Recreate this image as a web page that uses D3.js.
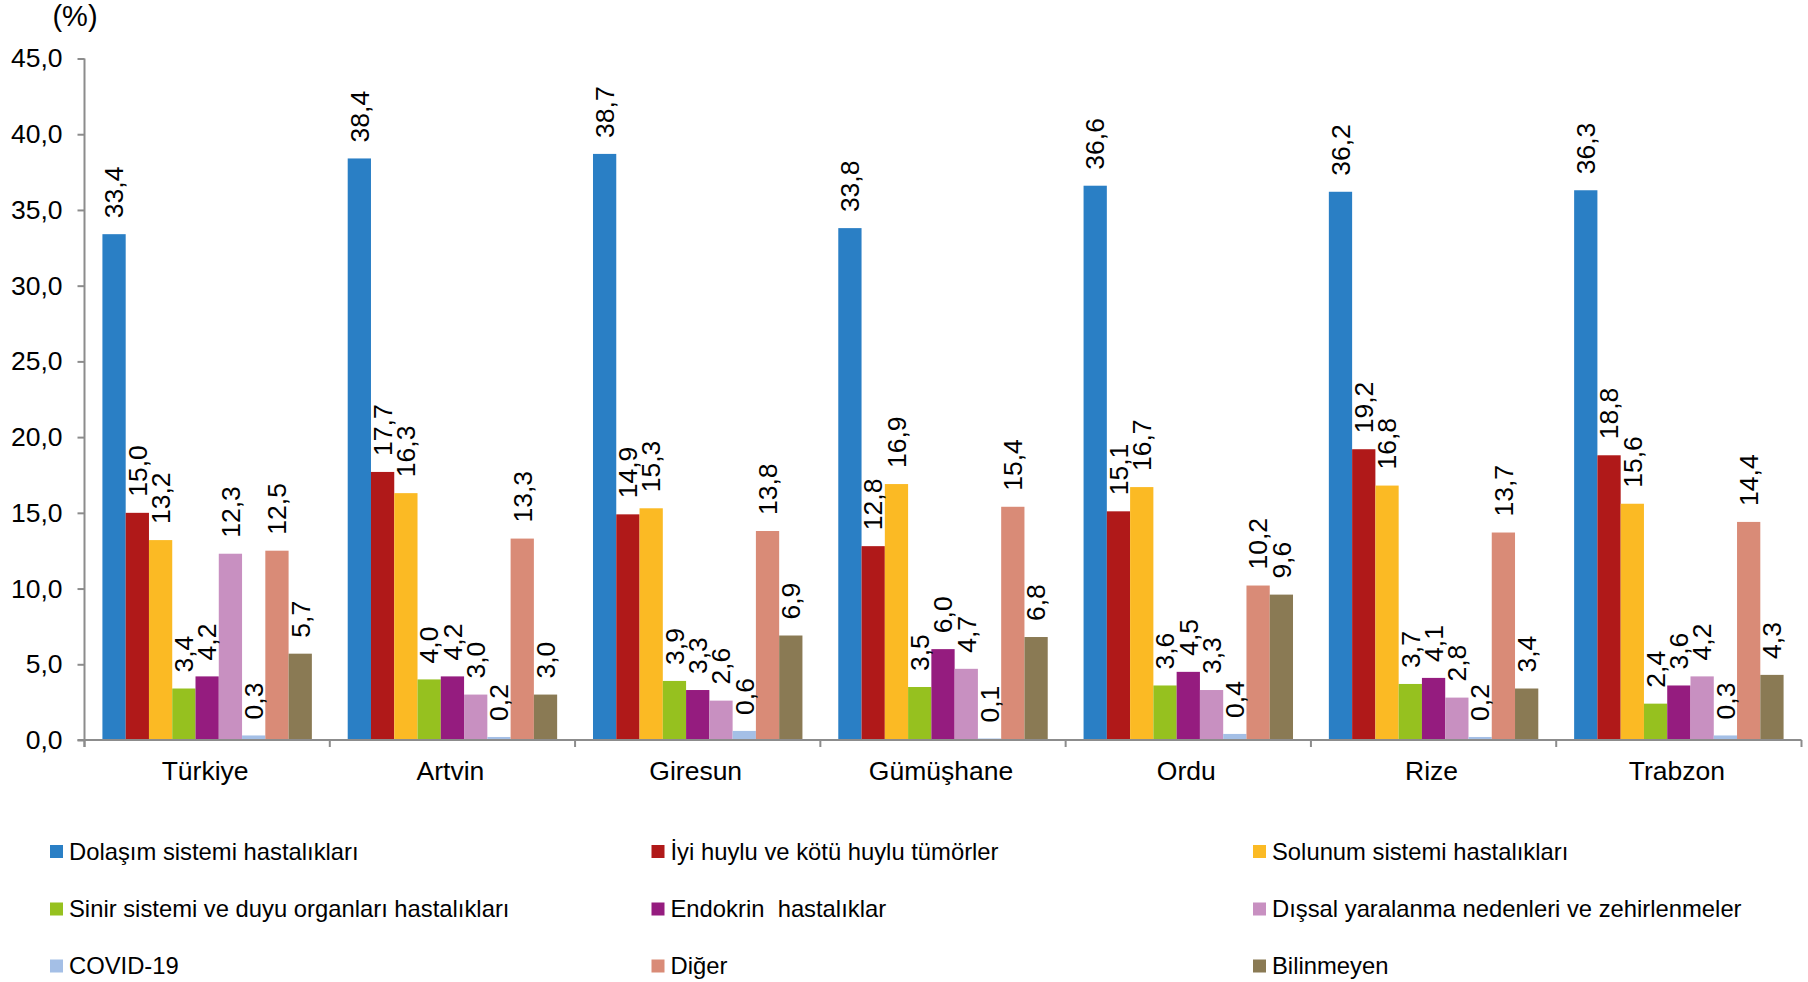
<!DOCTYPE html>
<html>
<head>
<meta charset="utf-8">
<script src="https://cdn.jsdelivr.net/npm/d3@7"></script>
<style>
  html, body { margin: 0; padding: 0; background: #ffffff; }
  svg { display: block; font-family: "Liberation Sans", Arial, sans-serif; }
</style>
</head>
<body>
<svg id="chart" width="1808" height="982"></svg>
<script>
const categories = ["Türkiye", "Artvin", "Giresun", "Gümüşhane", "Ordu", "Rize", "Trabzon"];

const seriesNames = [
  "Dolaşım sistemi hastalıkları",
  "İyi huylu ve kötü huylu tümörler",
  "Solunum sistemi hastalıkları",
  "Sinir sistemi ve duyu organları hastalıkları",
  "Endokrin  hastalıklar",
  "Dışsal yaralanma nedenleri ve zehirlenmeler",
  "COVID-19",
  "Diğer",
  "Bilinmeyen"
];

const dolasim    = [33.4, 38.4, 38.7, 33.8, 36.6, 36.2, 36.3];
const tumorler   = [15.0, 17.7, 14.9, 12.8, 15.1, 19.2, 18.8];
const solunum    = [13.2, 16.3, 15.3, 16.9, 16.7, 16.8, 15.6];
const sinir      = [3.4, 4.0, 3.9, 3.5, 3.6, 3.7, 2.4];
const endokrin   = [4.2, 4.2, 3.3, 6.0, 4.5, 4.1, 3.6];
const dissal     = [12.3, 3.0, 2.6, 4.7, 3.3, 2.8, 4.2];
const covid      = [0.3, 0.2, 0.6, 0.1, 0.4, 0.2, 0.3];
const diger      = [12.5, 13.3, 13.8, 15.4, 10.2, 13.7, 14.4];
const bilinmeyen = [5.7, 3.0, 6.9, 6.8, 9.6, 3.4, 4.3];

const yTicks = [0, 5, 10, 15, 20, 25, 30, 35, 40, 45];

const seriesColors = ["#2A7FC5", "#B01919", "#FBBA24", "#96C11F", "#951C7F", "#C890C1", "#A4BFE6", "#D98B77", "#8A7A54"];

const seriesValues = [dolasim, tumorler, solunum, sinir, endokrin, dissal, covid, diger, bilinmeyen];

// ---- layout ----
const mLeft = 84.5, mRight = 1801.5, mTop = 58.5, mBottom = 740;
const axisColor = "#8C8C8C";
const fmt = d => d.toFixed(1).replace(".", ",");

const svg = d3.select("#chart");

const x0 = d3.scaleBand().domain(categories).range([mLeft, mRight]).padding(0);
const x1 = d3.scaleBand().domain(d3.range(seriesNames.length))
  .range([0, x0.bandwidth()]).paddingInner(0).paddingOuter(0.77);
const y = d3.scaleLinear().domain([0, 45]).range([mBottom, mTop]);

// bars
const groups = svg.append("g").selectAll("g")
  .data(categories)
  .join("g")
  .attr("transform", c => `translate(${x0(c)},0)`);

groups.each(function(c, ci) {
  const g = d3.select(this);
  const rows = seriesValues.map((vals, si) => ({ si, v: vals[ci] }));
  g.selectAll("rect")
    .data(rows)
    .join("rect")
    .attr("x", d => x1(d.si))
    .attr("width", x1.bandwidth())
    .attr("y", d => y(d.v))
    .attr("height", d => y(0) - y(d.v))
    .attr("fill", d => seriesColors[d.si]);

  g.selectAll("text")
    .data(rows)
    .join("text")
    .attr("transform", d => `translate(${x1(d.si) + x1.bandwidth() / 2},${y(d.v) - 16}) rotate(-90)`)
    .attr("dy", "0.35em")
    .attr("text-anchor", "start")
    .attr("font-size", 26.5)
    .attr("fill", "#000")
    .text(d => fmt(d.v));
});

// y axis
const yAxis = d3.axisLeft(y).tickValues(yTicks).tickFormat(fmt).tickSize(7).tickPadding(15);
const gy = svg.append("g").attr("transform", `translate(${mLeft},0)`).call(yAxis);
gy.select(".domain").remove();
gy.selectAll(".tick line").attr("stroke", axisColor).attr("stroke-width", 2);
gy.selectAll(".tick text").attr("font-size", 26.5).attr("fill", "#000")
  .attr("font-family", "'Liberation Sans', Arial, sans-serif");
svg.append("line")
  .attr("x1", mLeft).attr("x2", mLeft)
  .attr("y1", y(45)).attr("y2", mBottom + 7)
  .attr("stroke", axisColor).attr("stroke-width", 2);

// x axis
svg.append("line")
  .attr("x1", mLeft - 7).attr("x2", mRight)
  .attr("y1", mBottom).attr("y2", mBottom)
  .attr("stroke", axisColor).attr("stroke-width", 2);
const boundaries = categories.map(c => x0(c)).concat([x0(categories[categories.length - 1]) + x0.bandwidth()]);
svg.append("g").selectAll("line")
  .data(boundaries)
  .join("line")
  .attr("x1", d => d).attr("x2", d => d)
  .attr("y1", mBottom).attr("y2", mBottom + 7)
  .attr("stroke", axisColor).attr("stroke-width", 2);
svg.append("g").selectAll("text")
  .data(categories)
  .join("text")
  .attr("x", c => x0(c) + x0.bandwidth() / 2 - 2)
  .attr("y", 780)
  .attr("text-anchor", "middle")
  .attr("font-size", 26.5)
  .attr("fill", "#000")
  .text(c => c);

// unit label
svg.append("text")
  .attr("x", 75).attr("y", 26)
  .attr("text-anchor", "middle")
  .attr("font-size", 29)
  .attr("fill", "#000")
  .text("(%)");

// legend
const legCols = [50, 651.5, 1253];
const legRows = [851.5, 909, 966];
const leg = svg.append("g").selectAll("g")
  .data(seriesNames)
  .join("g")
  .attr("transform", (d, i) => `translate(${legCols[i % 3]},${legRows[Math.floor(i / 3)]})`);
leg.append("rect")
  .attr("x", 0).attr("y", -6.5)
  .attr("width", 13).attr("height", 13)
  .attr("fill", (d, i) => seriesColors[i]);
leg.append("text")
  .attr("x", 19).attr("dy", "0.35em")
  .attr("font-size", 23.8)
  .attr("fill", "#000")
  .style("white-space", "pre")
  .text(d => d);
</script>
</body>
</html>
